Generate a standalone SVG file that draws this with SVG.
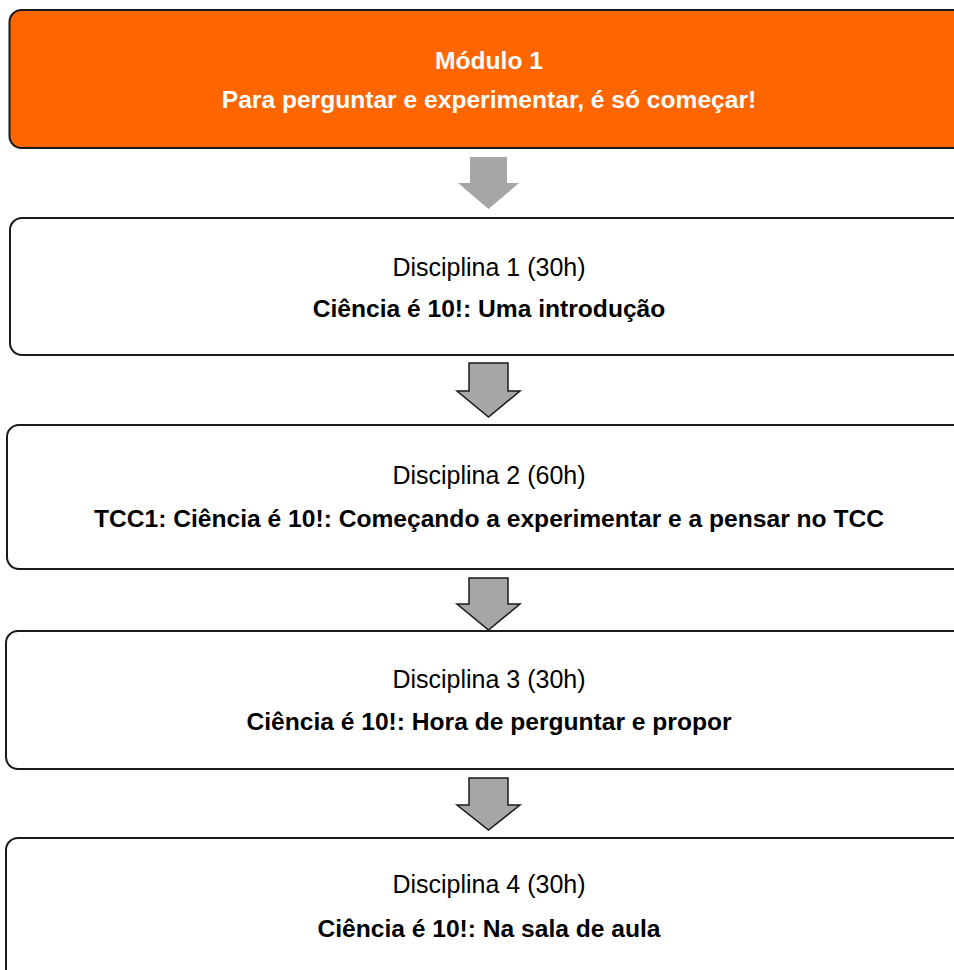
<svg xmlns="http://www.w3.org/2000/svg" width="954" height="970" viewBox="0 0 954 970">
<style>
.box{fill:#ffffff;stroke:#1a1a1a;stroke-width:2}
.mod{fill:#ff6600;stroke:#1a1a1a;stroke-width:2}
.t{font-family:"Liberation Sans",Arial,sans-serif;font-size:25px;fill:#000;text-anchor:middle}
.b{font-family:"Liberation Sans",Arial,sans-serif;font-size:24.6px;font-weight:bold;fill:#000;text-anchor:middle}
.w{fill:#ffffff}
.arr{fill:#a6a6a6;stroke:#1a1a1a;stroke-width:1.5;stroke-linejoin:miter}
.arr0{fill:#a6a6a6;stroke:none}
</style>
<rect width="954" height="970" fill="#ffffff"/>
<g id="modulo1">
<rect class="mod" x="9.5" y="10" width="960" height="138" rx="12"/>
<text class="b w" x="489" y="69">Módulo 1</text>
<text class="b w" x="489" y="108">Para perguntar e experimentar, é só começar!</text>
</g>
<g id="disciplina1">
<rect class="box" x="10" y="218" width="960" height="137" rx="12"/>
<text class="t" x="489" y="276">Disciplina 1 (30h)</text>
<text class="b" x="489" y="317">Ciência é 10!: Uma introdução</text>
</g>
<g id="disciplina2">
<rect class="box" x="7" y="425" width="963" height="144" rx="12"/>
<text class="t" x="489" y="484">Disciplina 2 (60h)</text>
<text class="b" x="489" y="527">TCC1: Ciência é 10!: Começando a experimentar e a pensar no TCC</text>
</g>
<g id="disciplina3">
<rect class="box" x="6" y="631" width="964" height="138" rx="12"/>
<text class="t" x="489" y="688">Disciplina 3 (30h)</text>
<text class="b" x="489" y="730">Ciência é 10!: Hora de perguntar e propor</text>
</g>
<g id="disciplina4">
<rect class="box" x="6" y="838" width="964" height="150" rx="12"/>
<text class="t" x="489" y="893">Disciplina 4 (30h)</text>
<text class="b" x="489" y="937">Ciência é 10!: Na sala de aula</text>
</g>
<g id="connectors">
<polygon class="arr0" points="470,157 507,157 507,183 519,183 488.5,209 458,183 470,183"/>
<polygon class="arr" points="469,363 508,363 508,391 520,391 488.5,417 457,391 469,391"/>
<polygon class="arr" points="469,578 508,578 508,604 520,604 488.5,630 457,604 469,604"/>
<polygon class="arr" points="469,778 508,778 508,805 520,805 488.5,830 457,805 469,805"/>
</g>
</svg>
